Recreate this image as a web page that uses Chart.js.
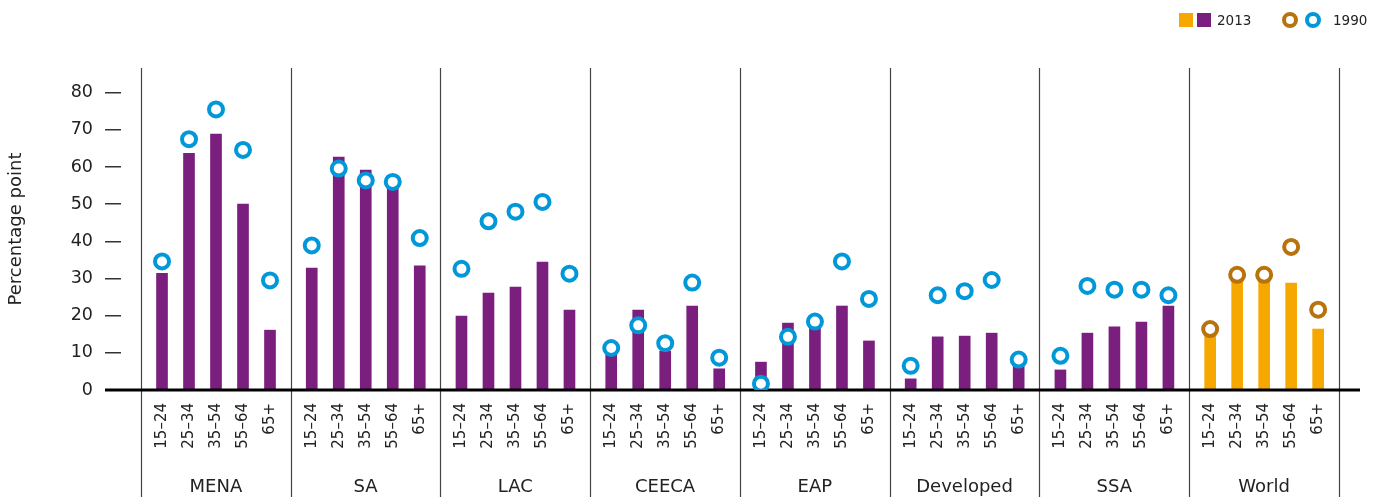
<!DOCTYPE html>
<html>
<head>
<meta charset="utf-8">
<script src="https://cdn.jsdelivr.net/npm/chart.js@4.4.1/dist/chart.umd.min.js"></script>
<style>
  html, body { margin: 0; padding: 0; background: #fff; }
  #wrap { position: relative; width: 1385px; height: 497px; font-family: "DejaVu Sans", sans-serif; color: #222; }
  canvas { display: block; }
  .lg { position: absolute; }
  .sq { width: 14px; height: 14px; top: 13px; }
  .ring { width: 8px; height: 8px; top: 12px; border-radius: 50%; border: 4px solid; background: #fff; }
  .txt { top: 11px; font-size: 13.5px; line-height: 18px; }
</style>
</head>
<body>
<div id="wrap">
  <canvas id="chart" width="1385" height="497"></canvas>
  <span class="lg sq" style="left:1179px;background:#f7a800"></span>
  <span class="lg sq" style="left:1197px;background:#7a1f7e"></span>
  <span class="lg txt" style="left:1217px">2013</span>
  <span class="lg ring" style="left:1282px;border-color:#b8730c"></span>
  <span class="lg ring" style="left:1305px;border-color:#0098d8"></span>
  <span class="lg txt" style="left:1333px">1990</span>
</div>
<script>
// Datos
const groups = ["MENA", "SA", "LAC", "CEECA", "EAP", "Developed", "SSA", "World"];
const ageBands = ["15–24", "25–34", "35–54", "55–64", "65+"];
const yTicks = [0, 10, 20, 30, 40, 50, 60, 70, 80];

// 2013 (barras), un bloque por región
const values2013 = [
  31.4, 63.7, 68.9, 50.0, 16.1,   // MENA
  32.8, 62.7, 59.2, 55.5, 33.4,   // SA
  19.9, 26.1, 27.7, 34.4, 21.5,   // LAC
  9.5, 21.5, 10.5, 22.6, 5.7,     // CEECA
  7.5, 18.0, 17.3, 22.6, 13.2,    // EAP
  3.0, 14.3, 14.5, 15.3, 6.3,     // Developed
  5.4, 15.3, 17.0, 18.3, 22.6,    // SSA
  15.0, 30.0, 30.0, 28.8, 16.4    // World
];

// 1990 (círculos)
const values1990 = [
  34.6, 67.5, 75.5, 64.6, 29.5,
  38.9, 59.6, 56.4, 56.0, 40.9,
  32.6, 45.4, 48.0, 50.6, 31.3,
  11.3, 17.4, 12.6, 28.9, 8.7,
  1.7, 14.3, 18.4, 34.6, 24.5,
  6.5, 25.5, 26.6, 29.6, 8.2,
  9.2, 28.0, 27.0, 27.0, 25.5,
  16.4, 31.0, 31.0, 38.5, 21.6
];

// Layout
const groupW = 5.546;   // ancho de cada región en unidades del eje x
const groupPad = 0.778; // margen antes de la primera barra
const purple = "#7a1f7e", orange = "#f7a800", blue = "#0098d8", brown = "#b8730c";
const fontFamily = "DejaVu Sans";
const worldIdx = groups.indexOf("World");

const xPos = values2013.map((_, i) => Math.floor(i / 5) * groupW + groupPad + (i % 5));
const isWorld = (i) => Math.floor(i / 5) === worldIdx;

const decorPlugin = {
  id: "decor",
  beforeDatasetsDraw(chart) {
    const { ctx, chartArea, scales: { x } } = chart;
    ctx.save();
    ctx.strokeStyle = "#444";
    ctx.lineWidth = 1.2;
    for (let g = 0; g <= groups.length; g++) {
      const px = Math.round(x.getPixelForValue(g * groupW)) + 0.5;
      ctx.beginPath();
      ctx.moveTo(px, chartArea.top);
      ctx.lineTo(px, chart.height);
      ctx.stroke();
    }
    ctx.restore();
  },
  afterDatasetDraw(chart, args) {
    if (args.meta.type !== "bar") return;
    const { ctx, chartArea, scales: { y } } = chart;
    const py = y.getPixelForValue(0);
    ctx.save();
    ctx.strokeStyle = "#000";
    ctx.lineWidth = 3;
    ctx.beginPath();
    ctx.moveTo(chartArea.left - 16, py);
    ctx.lineTo(chartArea.right, py);
    ctx.stroke();
    ctx.restore();
  },
  afterDraw(chart) {
    const { ctx, scales: { x } } = chart;
    ctx.save();
    ctx.fillStyle = "#222";
    ctx.font = "18px '" + fontFamily + "'";
    ctx.textAlign = "center";
    ctx.textBaseline = "middle";
    groups.forEach((name, g) => {
      ctx.fillText(name, x.getPixelForValue(g * groupW + groupW / 2), 487);
    });
    ctx.restore();
  }
};

new Chart(document.getElementById("chart"), {
  data: {
    datasets: [
      {
        type: "bar",
        label: "2013",
        data: values2013.map((v, i) => ({ x: xPos[i], y: v })),
        backgroundColor: values2013.map((_, i) => (isWorld(i) ? orange : purple)),
        barThickness: 11,
        grouped: false,
        order: 2
      },
      {
        type: "scatter",
        label: "1990",
        data: values1990.map((v, i) => ({ x: xPos[i], y: v })),
        pointRadius: 7,
        pointHoverRadius: 7,
        borderWidth: 4,
        pointBorderWidth: 4,
        pointBackgroundColor: "#fff",
        pointBorderColor: values1990.map((_, i) => (isWorld(i) ? brown : blue)),
        order: 1
      }
    ]
  },
  options: {
    responsive: false,
    animation: false,
    layout: { padding: { top: 68, right: 25, left: 0, bottom: 0 } },
    plugins: { legend: { display: false }, tooltip: { enabled: false } },
    scales: {
      x: {
        type: "linear",
        offset: false,
        min: -0.741,
        max: 45.15,
        grid: { display: false, drawTicks: false },
        border: { display: false },
        afterBuildTicks: (scale) => { scale.ticks = xPos.map((v) => ({ value: v })); },
        afterFit: (scale) => { scale.height = 107; },
        ticks: {
          autoSkip: false,
          minRotation: 90,
          maxRotation: 90,
          padding: 13,
          color: "#222",
          font: { family: fontFamily, size: 15 },
          callback: (v, i) => ageBands[i % 5]
        }
      },
      y: {
        min: 0,
        max: 86.65,
        border: { display: false },
        grid: { drawOnChartArea: false, drawTicks: true, tickLength: 16, color: "#333", lineWidth: 1.5 },
        afterBuildTicks: (scale) => { scale.ticks = yTicks.map((v) => ({ value: v })); },
        afterFit: (scale) => { scale.width = 121; },
        ticks: { padding: 12, color: "#222", font: { family: fontFamily, size: 17.5 } },
        title: {
          display: true,
          text: "Percentage point",
          color: "#222",
          font: { family: fontFamily, size: 18 },
          padding: { top: 6, bottom: 0 }
        }
      }
    }
  },
  plugins: [decorPlugin]
});
</script>
</body>
</html>
